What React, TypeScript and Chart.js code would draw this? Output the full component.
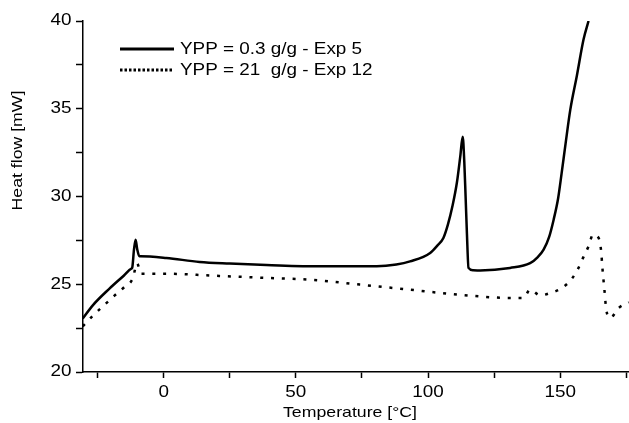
import React, { useEffect, useRef } from "react";
import { Chart, registerables } from "chart.js";

Chart.register(...registerables);

const seriesNames = ["YPP = 0.3 g/g - Exp 5", "YPP = 21  g/g - Exp 12"];

const solidX = [-30.6, -26.8, -20.5, -15, -12.2, -11.9, -11.2, -10.6, -10.0, -9.2, -8.8, 1, 13.6, 25, 38.9, 59, 80.6, 88, 93.2, 100.8, 103.5, 105.8, 107.5, 109.3, 110.9, 112.2, 113.1, 113.7, 114.2, 114.7, 115.3, 117, 119.7, 131, 138.6, 141.5, 143.7, 145.8, 147.5, 149.2, 150.5, 152, 153.8, 156.3, 158.8, 160.7];
const solidY = [23.05, 23.8, 24.75, 25.5, 25.89, 25.93, 27.0, 27.54, 27.0, 26.6, 26.6, 26.5, 26.27, 26.18, 26.1, 26.02, 26.02, 26.12, 26.3, 26.78, 27.2, 27.64, 28.4, 29.5, 30.78, 32.3, 33.4, 32.0, 30.0, 27.9, 25.93, 25.8, 25.79, 25.93, 26.2, 26.55, 26.97, 27.7, 28.68, 29.9, 31.3, 33.0, 34.95, 36.9, 38.95, 40];

const dotX = [-30.6, -26.8, -23, -18.6, -14.8, -11.6, -10.1, -8.4, 1, 18.7, 38.9, 55.3, 74.2, 93.2, 112.1, 131, 136.1, 138.6, 142.4, 146.2, 150.6, 154.4, 156.9, 158.8, 160.7, 162.4, 164.5, 165.4, 166, 166.7, 167.4, 168.9, 172.1, 175.9];
const dotY = [22.6, 23.2, 23.74, 24.35, 24.85, 25.36, 26.2, 25.6, 25.6, 25.49, 25.36, 25.26, 24.98, 24.69, 24.4, 24.22, 24.22, 24.69, 24.37, 24.5, 24.78, 25.32, 25.93, 26.56, 27.16, 27.83, 27.64, 26.97, 25.83, 24.69, 23.55, 23.08, 23.65, 23.97];

const xTicks = [-25, 0, 25, 50, 75, 100, 125, 150, 175];
const xLabels = [0, 50, 100, 150];
const yLabels = [20, 25, 30, 35, 40];
const xTitle = "Temperature [°C]";
const yTitle = "Heat flow [mW]";

const FONT = "'Liberation Sans', Arial, sans-serif";
const STRETCH = 1.18;

function drawText(ctx: CanvasRenderingContext2D, text: string, x: number, y: number, align: CanvasTextAlign, rot = 0) {
  ctx.save();
  ctx.translate(x, y);
  if (rot) ctx.rotate(rot);
  ctx.scale(STRETCH, 1);
  ctx.textAlign = align;
  ctx.textBaseline = "middle";
  ctx.fillText(text, 0, 0);
  ctx.restore();
}

export default function App() {
  const ref = useRef<HTMLCanvasElement | null>(null);

  useEffect(() => {
    document.body.style.margin = "0";
    const canvas = ref.current!;
    const overlay = {
      id: "overlay",
      afterDraw(chart: any) {
        const ctx = chart.ctx as CanvasRenderingContext2D;
        const xs = chart.scales.x;
        const ys = chart.scales.y;
        ctx.save();
        ctx.fillStyle = "#000";
        ctx.font = `16px ${FONT}`;
        xLabels.forEach((v) => drawText(ctx, String(v), xs.getPixelForValue(v), 392.5, "center"));
        yLabels.forEach((v) => drawText(ctx, String(v), 71.5, ys.getPixelForValue(v), "right"));
        ctx.font = `15px ${FONT}`;
        drawText(ctx, xTitle, 350, 412.5, "center");
        drawText(ctx, yTitle, 18, 150.5, "center", -Math.PI / 2);
        const rows = [49, 70];
        ctx.strokeStyle = "#000";
        ctx.lineWidth = 3;
        ctx.beginPath();
        ctx.moveTo(120, rows[0]);
        ctx.lineTo(174, rows[0]);
        ctx.stroke();
        ctx.setLineDash([2.5, 2]);
        ctx.beginPath();
        ctx.moveTo(120, rows[1]);
        ctx.lineTo(174, rows[1]);
        ctx.stroke();
        ctx.setLineDash([]);
        ctx.font = `16px ${FONT}`;
        drawText(ctx, seriesNames[0], 180, rows[0] + 1, "left");
        drawText(ctx, seriesNames[1], 180, rows[1] + 1, "left");
        ctx.restore();
      },
    };

    const chart = new Chart(canvas, {
      type: "line",
      data: {
        datasets: [
          {
            label: seriesNames[0],
            data: solidX.map((x, i) => ({ x, y: solidY[i] })),
            borderColor: "#000",
            borderWidth: 2.5,
            pointRadius: 0,
            cubicInterpolationMode: "monotone",
            fill: false,
          },
          {
            label: seriesNames[1],
            data: dotX.map((x, i) => ({ x, y: dotY[i] })),
            borderColor: "#000",
            borderWidth: 2.5,
            borderDash: [3, 7.8],
            borderCapStyle: "butt",
            pointRadius: 0,
            cubicInterpolationMode: "monotone",
            fill: false,
          },
        ],
      },
      options: {
        responsive: false,
        animation: false,
        layout: { padding: { top: 21, right: 0, left: 0, bottom: 0 } },
        plugins: { legend: { display: false }, tooltip: { enabled: false } },
        scales: {
          x: {
            type: "linear",
            min: -30.5,
            max: 176,
            afterBuildTicks: (s: any) => {
              s.ticks = xTicks.map((v) => ({ value: v }));
            },
            afterFit: (s: any) => {
              s.height = 51;
            },
            ticks: { display: false, autoSkip: false },
            grid: { drawOnChartArea: false, drawTicks: true, tickLength: 6, tickColor: "#000", tickWidth: 1.5 },
            border: { display: true, color: "#000", width: 1.5 },
          },
          y: {
            type: "linear",
            min: 20,
            max: 40,
            afterFit: (s: any) => {
              s.width = 83;
            },
            ticks: { display: false, stepSize: 2.5 },
            grid: { drawOnChartArea: false, drawTicks: true, tickLength: 7, tickColor: "#000", tickWidth: 1.5 },
            border: { display: true, color: "#000", width: 1.5 },
          },
        },
      },
      plugins: [overlay],
    } as any);
    return () => chart.destroy();
  }, []);

  return (
    <canvas
      ref={ref}
      width={629}
      height={423}
      style={{ display: "block", width: 629, height: 423 }}
    />
  );
}
